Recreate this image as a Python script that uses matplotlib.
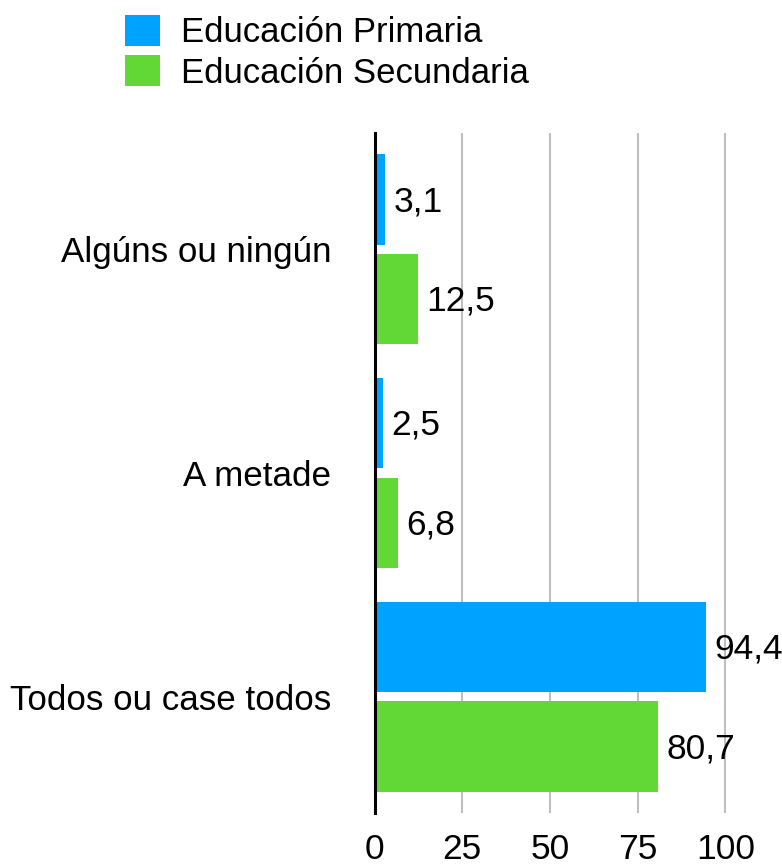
import matplotlib.pyplot as plt
import numpy as np
from matplotlib import rcParams

rcParams['font.family'] = ['Liberation Sans', 'DejaVu Sans']

# Data
categories = ['Algúns ou ningún', 'A metade', 'Todos ou case todos']
primaria = [3.1, 2.5, 94.4]
secundaria = [12.5, 6.8, 80.7]
series_names = ['Educación Primaria', 'Educación Secundaria']
xticks = [0, 25, 50, 75, 100]

blue = '#00A2FF'
green = '#61D836'

fig = plt.figure(figsize=(7.82, 8.65), dpi=100)
ax = fig.add_axes([374.5 / 782, 1 - 813 / 865, 354.5 / 782, 680 / 865])

y = np.arange(len(categories))
h = 0.403
off = 0.2226

b1 = ax.barh(y - off, primaria, height=h, color=blue, label=series_names[0], zorder=2)
b2 = ax.barh(y + off, secundaria, height=h, color=green, label=series_names[1], zorder=2)

# Value labels with comma decimal separator
for bars, vals in [(b1, primaria), (b2, secundaria)]:
    for bar, v in zip(bars, vals):
        ax.annotate(f'{v:.1f}'.replace('.', ','),
                    (v, bar.get_y() + bar.get_height() / 2),
                    xytext=(6, -1.5), textcoords='offset points',
                    ha='left', va='center', fontsize=25.5, zorder=3)

ax.set_xlim(0, 101)
ax.set_ylim(2.52, -0.52)
ax.set_xticks(xticks)
ax.set_xticklabels([str(t) for t in xticks])
ax.set_yticks(y)
ax.set_yticklabels(categories)
ax.tick_params(axis='x', length=0, pad=14.5, labelsize=25.5)
ax.tick_params(axis='y', length=0, pad=31, labelsize=25.2)

ax.grid(axis='x', color='#BFBFBF', linewidth=1.5)
ax.grid(axis='y', visible=False)
ax.set_axisbelow(True)

for s in ['top', 'right', 'bottom']:
    ax.spines[s].set_visible(False)
ax.spines['left'].set_color('black')
ax.spines['left'].set_linewidth(2.2)
ax.spines['left'].set_zorder(4)

fig.legend(handles=[b1, b2], loc='upper left', bbox_to_anchor=(125 / 782, 1 - 15 / 865),
           frameon=False, fontsize=25, handlelength=1.01, handleheight=1.0,
           handletextpad=0.6, labelspacing=0.17, borderpad=0, borderaxespad=0)

fig.savefig('out.png', dpi=100, facecolor='white')
